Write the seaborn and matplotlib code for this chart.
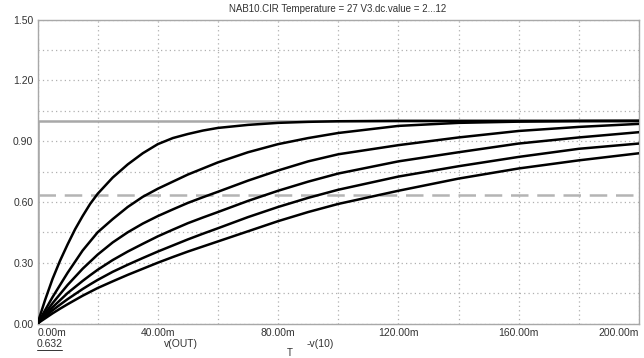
import matplotlib
matplotlib.use("Agg")
import matplotlib.pyplot as plt
import seaborn as sns
import pandas as pd
from matplotlib.ticker import MultipleLocator

# ---- data (time in ms, voltage in V) ----
t_ms = [0, 2.5, 5, 7.5, 10, 12.5, 15, 17.5, 20, 25, 30, 35, 40, 45, 50, 55, 60,
        70, 80, 90, 100, 120, 140, 160, 180, 200]
v1 = [0, 0.115, 0.22, 0.31, 0.39, 0.465, 0.53, 0.59, 0.64, 0.72, 0.785, 0.84, 0.885,
      0.915, 0.935, 0.952, 0.965, 0.98, 0.99, 0.995, 0.998, 1.0, 1.0, 1.0, 1.0, 1.0]
v2 = [0, 0.065, 0.13, 0.19, 0.25, 0.305, 0.36, 0.405, 0.45, 0.515, 0.575, 0.625, 0.665,
      0.70, 0.735, 0.765, 0.795, 0.845, 0.885, 0.915, 0.94, 0.975, 0.99, 0.996, 0.999, 1.0]
v3 = [0, 0.05, 0.10, 0.145, 0.19, 0.23, 0.27, 0.305, 0.34, 0.40, 0.45, 0.493, 0.53,
      0.563, 0.595, 0.623, 0.65, 0.705, 0.755, 0.80, 0.835, 0.88, 0.918, 0.95, 0.97, 0.985]
v4 = [0, 0.04, 0.08, 0.115, 0.15, 0.18, 0.21, 0.238, 0.265, 0.313, 0.355, 0.393, 0.43,
      0.463, 0.495, 0.523, 0.55, 0.605, 0.655, 0.70, 0.74, 0.80, 0.845, 0.888, 0.918, 0.944]
v5 = [0, 0.033, 0.065, 0.093, 0.12, 0.145, 0.17, 0.193, 0.215, 0.255, 0.29, 0.323, 0.355,
      0.385, 0.415, 0.443, 0.47, 0.525, 0.575, 0.62, 0.66, 0.725, 0.776, 0.822, 0.862, 0.888]
v6 = [0, 0.025, 0.05, 0.073, 0.095, 0.116, 0.137, 0.156, 0.175, 0.208, 0.24, 0.27, 0.30,
      0.328, 0.355, 0.38, 0.405, 0.455, 0.505, 0.55, 0.59, 0.655, 0.715, 0.765, 0.805, 0.84]
series = {"V3=2": v1, "V3=4": v2, "V3=6": v3, "V3=8": v4, "V3=10": v5, "V3=12": v6}

# input step v(10)
step_t = [0, 0, 200]
step_v = [0, 1.0, 1.0]
ref_level = 0.632

x_ticks = [0, 40, 80, 120, 160, 200]
x_labels = ["0.00m", "40.00m", "80.00m", "120.00m", "160.00m", "200.00m"]
y_ticks = [0.0, 0.30, 0.60, 0.90, 1.20, 1.50]
y_labels = ["0.00", "0.30", "0.60", "0.90", "1.20", "1.50"]
title = "NAB10.CIR Temperature = 27 V3.dc.value = 2...12"

rows = []
for name, vals in series.items():
    for t, v in zip(t_ms, vals):
        rows.append({"t": t, "v": v, "curve": name})
df = pd.DataFrame(rows)

sns.set_theme(style="white")
plt.rcParams["font.family"] = ["Liberation Sans", "DejaVu Sans"]

fig = plt.figure(figsize=(6.44, 3.58), dpi=100)
ax = fig.add_axes([37.5 / 644, 1 - 323.5 / 358, (639 - 37.5) / 644, (323.5 - 19.5) / 358])

grey = "#a8a8a8"
ax.plot(step_t, step_v, color=grey, lw=1.8, zorder=2, solid_capstyle="butt")
ax.axhline(ref_level, color="#b4b4b4", lw=1.8, ls=(0, (7, 3.5)), zorder=2)

sns.lineplot(data=df, x="t", y="v", hue="curve", palette=["black"] * 6,
             estimator=None, legend=False, lw=1.8, ax=ax, zorder=3)

ax.set_xlim(0, 200)
ax.set_ylim(0, 1.5)
ax.xaxis.set_minor_locator(MultipleLocator(20))
ax.yaxis.set_minor_locator(MultipleLocator(0.15))
ax.set_xticks(x_ticks, x_labels)
ax.set_yticks(y_ticks, y_labels)
ax.grid(True, which="both", color="#b0b0b0", ls=(0, (1, 2.5)), lw=0.9)
ax.tick_params(which="both", length=0, labelsize=7.5, colors="#333333")
ax.tick_params(axis="x", pad=3)
ax.tick_params(axis="y", pad=3)
xl = ax.get_xticklabels()
xl[0].set_ha("left")
xl[-1].set_ha("right")
for s in ax.spines.values():
    s.set_color(grey)
    s.set_linewidth(1.0)
ax.set_xlabel("")
ax.set_ylabel("")

fig.text(338 / 644, 1 - 9 / 358, title, ha="center", va="center", fontsize=7, color="#333333")
fig.text(37 / 644, 1 - 344 / 358, "0.632", ha="left", va="center", fontsize=7.5, color="#333333")
fig.add_artist(plt.Line2D([37 / 644, 62 / 644], [1 - 349.5 / 358] * 2, color="#333333", lw=0.7))
fig.text(181 / 644, 1 - 344 / 358, "v(OUT)", ha="center", va="center", fontsize=7.5, color="#333333")
fig.text(320 / 644, 1 - 344 / 358, "-v(10)", ha="center", va="center", fontsize=7.5, color="#333333")
fig.text(290 / 644, 1 - 353 / 358, "T", ha="center", va="center", fontsize=7, color="#333333")

fig.savefig("out.png", dpi=100)
